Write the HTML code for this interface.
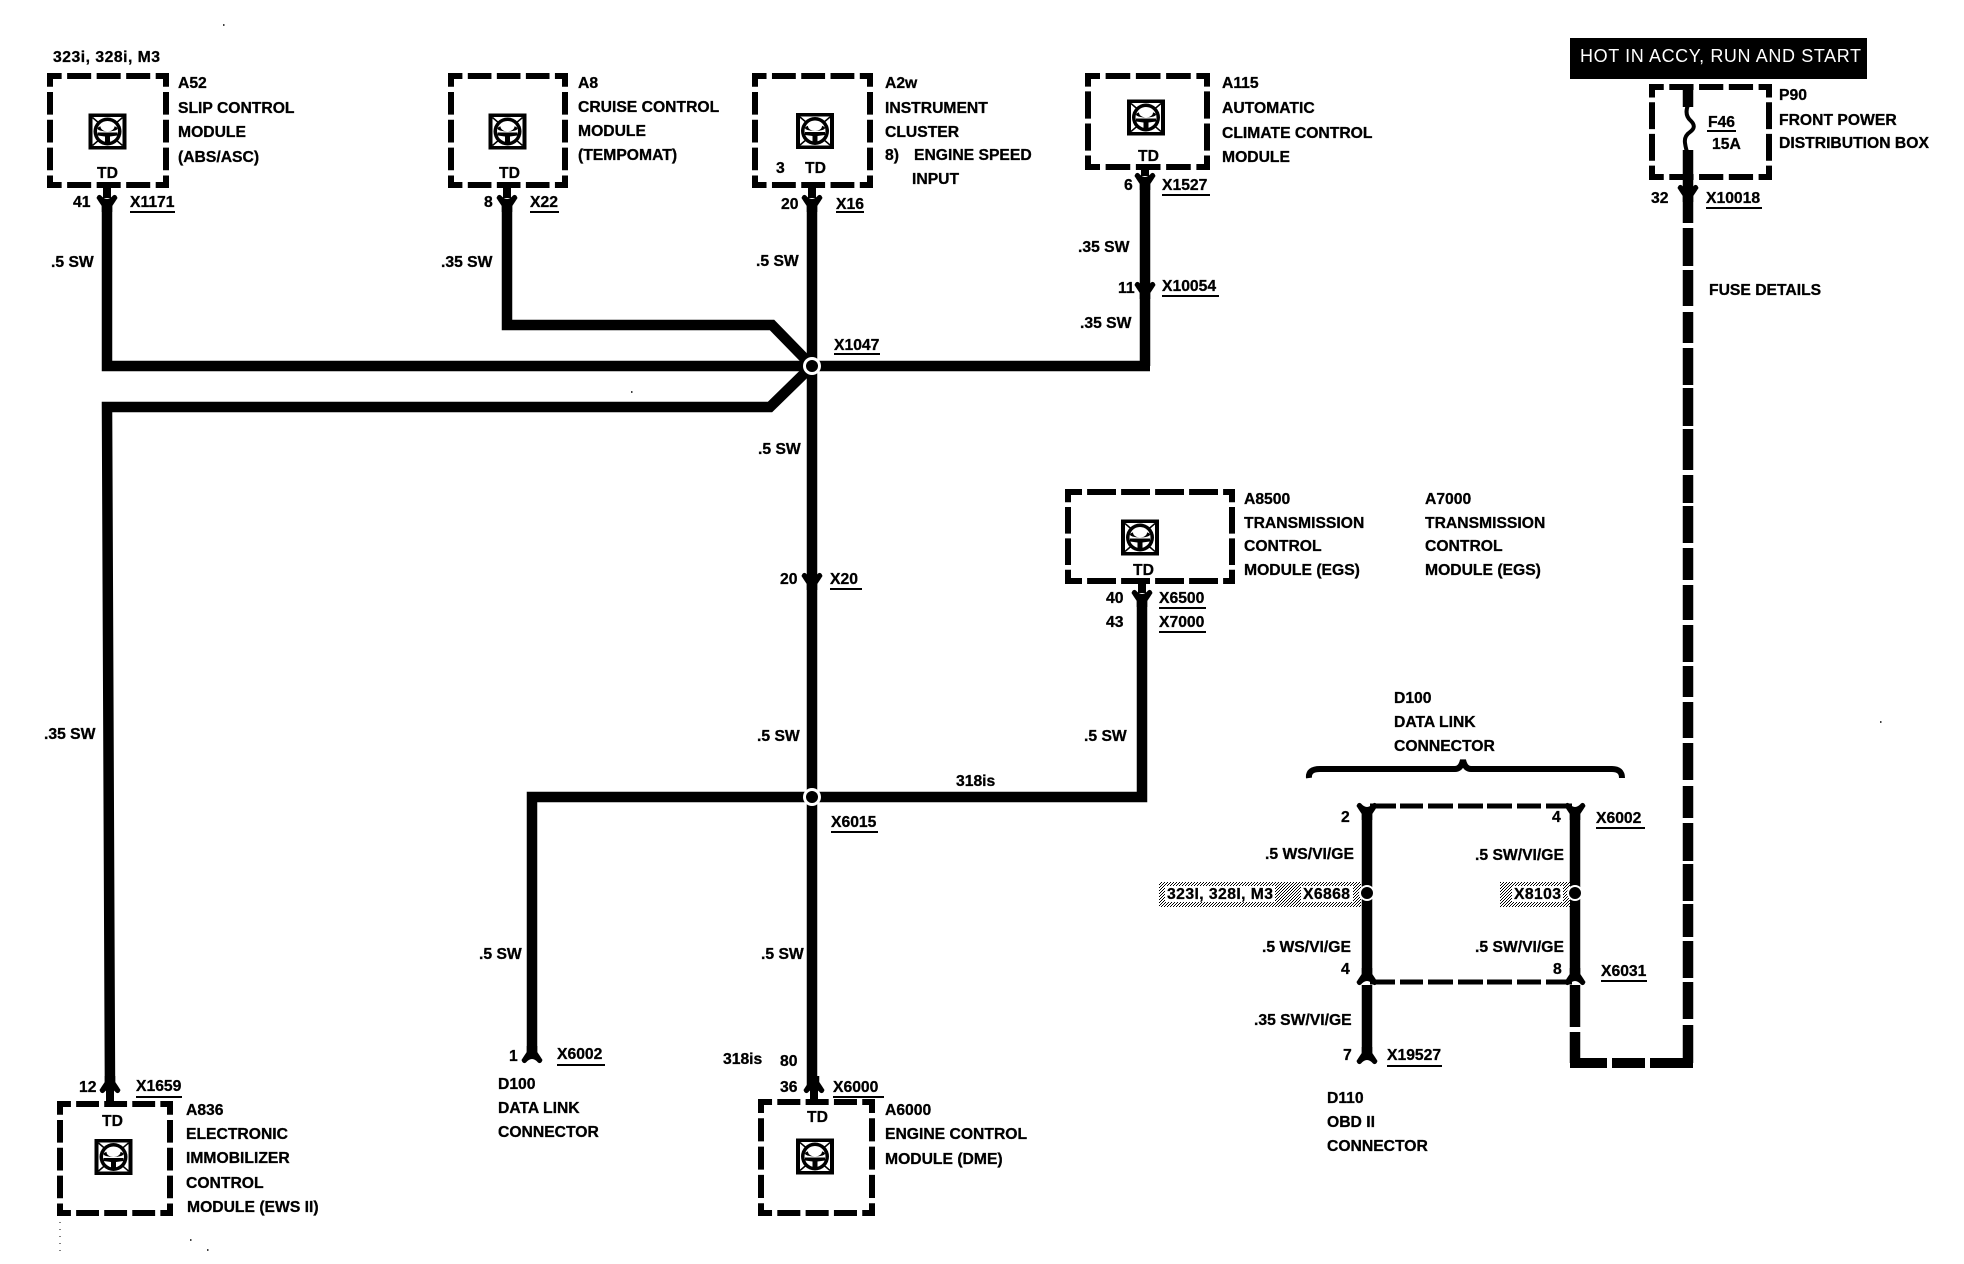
<!DOCTYPE html>
<html><head><meta charset="utf-8"><style>
html,body{margin:0;padding:0;background:#fff}
svg{display:block}
text{font:bold 15.7px "Liberation Sans",sans-serif;fill:#000;stroke:#000;stroke-width:.3}
.w{stroke:#000;stroke-width:10.5;fill:none;stroke-linejoin:miter}
.d,.e,.f{stroke:#000;stroke-width:6;fill:none}
.d{stroke-dasharray:12 4.5 19.700 4.5 19.700 4.5 19.700 4.5 12 4.500}
.e{stroke-dasharray:14 5 28 5 28 5 15 5}
.f{stroke-dasharray:10 3 17 3 17 3 17 3 17 3 9 3}
.u{stroke:#000;stroke-width:2;fill:none}
</style></head><body>
<svg width="1964" height="1264" viewBox="0 0 1964 1264" xmlns="http://www.w3.org/2000/svg">
<defs>
<g id="ic">
<rect x="-19" y="-18" width="38" height="36" fill="#000"/>
<rect x="-15" y="-14.500" width="30" height="29" fill="#fff"/>
<path d="M-15-14 L-8-8M15-14L8-8M-15 14L-8 8M15 14L8 8" stroke="#000" stroke-width="1.500"/>
<circle r="14" fill="#000"/>
<circle r="10.500" fill="#fff"/>
<ellipse cx="0" cy="-3" rx="10" ry="3" fill="#000"/>
<ellipse cx="0" cy="-5" rx="7" ry="5" fill="#fff"/>
<path d="M-10 1H10V4L2.500 5V13H-2.500V5L-10 4Z" fill="#000"/>
</g>
<path id="fu" d="M-10.500-4Q-9-8.500-6-6.500Q-3-3 0-3Q3-3 6-6.500Q9-8.500 10.500-4Q8 0 5.250 4V10H-5.250V4Q-8 0-10.500-4Z" fill="#000"/>
<pattern id="h" width="3" height="3" patternUnits="userSpaceOnUse"><rect width="3" height="3" fill="#fff"/><rect width="1" height="1" fill="#000"/><rect x="2" y="1" width="1" height="1" fill="#000"/><rect x="1" y="2" width="1" height="1" fill="#000"/></pattern>
</defs>

<!-- wires -->
<path class="w" d="M107 205V366H812"/>
<path class="w" d="M507 205V325H772L812 366"/>
<path class="w" d="M812 205V1090"/>
<path class="w" d="M1145 180V366M812 366H1150"/>
<path class="w" d="M812 366L770 407H107L110 1090"/>
<path class="w" d="M1142 600V797H532V1056"/>
<path class="w" d="M1367 810V980M1575 810V980M1367 985V1058"/>
<path class="w" d="M1688 85V107M1688 150V192"/>
<path d="M1688 105Q1684 115 1691 121Q1697 127 1690 132Q1684 136 1685 143Q1686 150 1688 154" fill="none" stroke="#000" stroke-width="4"/>
<path class="w" d="M1688 195V223M1688 228V266M1688 270V306M1688 312V343M1688 348V385M1688 388V426M1688 429V470M1688 475V503M1688 506V543M1688 548V580M1688 585V620M1688 625V662M1688 666V697M1688 702V738M1688 743V780M1688 786V818M1688 823V861M1688 864V901M1688 904V937M1688 941V978M1688 982V1019M1688 1025V1063"/>
<path class="w" d="M1575 985V1027M1575 1032V1063"/>
<path d="M1570 1058H1607V1068H1570ZM1612 1058H1645V1068H1612ZM1650 1058H1693V1068H1650Z" fill="#000"/>
<path stroke="#000" stroke-width="5" fill="none" d="M1370 806H1396M1400 806H1423M1428 806H1453M1458 806H1483M1487 806H1512M1517 806H1541M1546 806H1572M1370 982H1395M1400 982H1423M1428 982H1453M1458 982H1483M1487 982H1512M1517 982H1541M1546 982H1572"/>
<path d="M1309 778Q1308 769 1320 769H1455Q1461 769 1463 760Q1465 769 1471 769H1612Q1622 769 1622 778" fill="none" stroke="#000" stroke-width="6"/>

<!-- forks -->
<use href="#fu" x="107" y="202"/><use href="#fu" x="507" y="202"/><use href="#fu" x="812" y="202"/>
<use href="#fu" x="1145" y="180"/><use href="#fu" x="1145" y="289"/><use href="#fu" x="812" y="580"/>
<use href="#fu" x="1688" y="192"/><use href="#fu" x="1142" y="597"/>
<use href="#fu" x="1367" y="810"/><use href="#fu" x="1575" y="810"/>
<use href="#fu" transform="translate(110,1086) scale(1,-1)"/><use href="#fu" transform="translate(814,1086) scale(1,-1)"/>
<use href="#fu" transform="translate(532,1056) scale(1,-1)"/><use href="#fu" transform="translate(1367,1057) scale(1,-1)"/>
<use href="#fu" transform="translate(1367,978) scale(1,-1)"/><use href="#fu" transform="translate(1575,978) scale(1,-1)"/>
<path d="M107 187V198M507 187V198M812 187V198M1145 168V176M1688 178V189M110 1090V1104M814 1090V1102M1142 583V593" stroke="#000" stroke-width="8"/>

<!-- boxes -->
<path class="d" pathLength="100" d="M47 76H169"/><path class="d" pathLength="100" d="M47 185H169"/><path class="d" pathLength="100" d="M50 73V188"/><path class="d" pathLength="100" d="M166 73V188"/>
<path class="d" pathLength="100" d="M448 76H568"/><path class="d" pathLength="100" d="M448 185H568"/><path class="d" pathLength="100" d="M451 73V188"/><path class="d" pathLength="100" d="M565 73V188"/>
<path class="d" pathLength="100" d="M752 76H873"/><path class="d" pathLength="100" d="M752 185H873"/><path class="d" pathLength="100" d="M755 73V188"/><path class="d" pathLength="100" d="M870 73V188"/>
<path class="d" pathLength="100" d="M1085 76H1210"/><path class="d" pathLength="100" d="M1085 167H1210"/><path class="e" pathLength="100" d="M1088 73V170"/><path class="e" pathLength="100" d="M1207 73V170"/>
<path class="f" pathLength="100" d="M1065 492H1235"/><path class="f" pathLength="100" d="M1065 581H1235"/><path class="e" pathLength="100" d="M1068 489V584"/><path class="e" pathLength="100" d="M1232 489V584"/>
<path class="d" pathLength="100" d="M1649 87H1772"/><path class="d" pathLength="100" d="M1649 177H1772"/><path class="e" pathLength="100" d="M1652 84V180"/><path class="e" pathLength="100" d="M1769 84V180"/>
<path class="d" pathLength="100" d="M57 1104H173"/><path class="d" pathLength="100" d="M57 1213H173"/><path class="d" pathLength="100" d="M60 1101V1216"/><path class="d" pathLength="100" d="M170 1101V1216"/>
<path class="d" pathLength="100" d="M758 1102H875"/><path class="d" pathLength="100" d="M758 1213H875"/><path class="d" pathLength="100" d="M761 1099V1216"/><path class="d" pathLength="100" d="M872 1099V1216"/>

<!-- icons -->
<use href="#ic" x="107.500" y="131.500"/><use href="#ic" x="507.500" y="131.500"/><use href="#ic" x="815" y="131"/>
<use href="#ic" x="1146" y="117.500"/><use href="#ic" x="1140" y="537.500"/><use href="#ic" x="113.500" y="1157"/><use href="#ic" x="815" y="1156.500"/>

<!-- junctions -->
<circle cx="812" cy="366" r="9" fill="#fff"/><circle cx="812" cy="366" r="6" fill="#000"/>
<circle cx="812" cy="797" r="9" fill="#fff"/><circle cx="812" cy="797" r="6" fill="#000"/>

<!-- hatched bands -->
<rect x="1159" y="882" width="202" height="25" fill="url(#h)"/>
<rect x="1500" y="882" width="70" height="25" fill="url(#h)"/>
<rect x="1165" y="886" width="110" height="16" fill="#fff"/><rect x="1301" y="886" width="52" height="16" fill="#fff"/><rect x="1512" y="886" width="51" height="16" fill="#fff"/>
<circle cx="1367" cy="893" r="8" fill="#fff"/><circle cx="1367" cy="893" r="6" fill="#000"/>
<circle cx="1575" cy="893" r="8" fill="#fff"/><circle cx="1575" cy="893" r="6" fill="#000"/>

<!-- underlines -->
<path class="u" d="M130 212H175M530 212H559M836 212H864M1162 195H1210M1162 296H1219M834 354H880M830 589H862M1159 608H1206M1159 632H1206M831 832H878M557 1065H605M833 1097H884M136 1097H182M1706 208H1762M1707 131H1736M1596 828H1645M1601 981H1647M1387 1066H1442"/>

<!-- black header -->
<rect x="1570" y="38" width="297" height="41" fill="#000"/>
<text x="1580" y="62" textLength="281" style="fill:#fff;stroke:none;font-weight:normal;font-size:18px">HOT IN ACCY, RUN AND START</text>

<!-- labels -->
<text x="53" y="62" textLength="107">323i, 328i, M3</text>
<text x="178" y="88">A52</text><text x="178" y="113">SLIP CONTROL</text><text x="178" y="137">MODULE</text><text x="178" y="162">(ABS/ASC)</text>
<text x="97" y="178">TD</text><text x="73" y="207">41</text><text x="130" y="207">X1171</text><text x="51" y="267">.5 SW</text>

<text x="578" y="88">A8</text><text x="578" y="112">CRUISE CONTROL</text><text x="578" y="136">MODULE</text><text x="578" y="160">(TEMPOMAT)</text>
<text x="499" y="178">TD</text><text x="484" y="207">8</text><text x="530" y="207">X22</text><text x="441" y="267">.35 SW</text>

<text x="885" y="88">A2w</text><text x="885" y="113">INSTRUMENT</text><text x="885" y="137">CLUSTER</text><text x="885" y="160">8)</text><text x="914" y="160">ENGINE SPEED</text><text x="912" y="184">INPUT</text>
<text x="776" y="173">3</text><text x="805" y="173">TD</text><text x="781" y="209">20</text><text x="836" y="209">X16</text><text x="756" y="266">.5 SW</text>

<text x="1222" y="88">A115</text><text x="1222" y="113">AUTOMATIC</text><text x="1222" y="138">CLIMATE CONTROL</text><text x="1222" y="162">MODULE</text>
<text x="1138" y="161">TD</text><text x="1124" y="190">6</text><text x="1162" y="190">X1527</text><text x="1078" y="252">.35 SW</text><text x="1118" y="293">11</text><text x="1162" y="291">X10054</text><text x="1080" y="328">.35 SW</text>

<text x="1779" y="100">P90</text><text x="1779" y="125">FRONT POWER</text><text x="1779" y="148">DISTRIBUTION BOX</text>
<text x="1708" y="127">F46</text><text x="1712" y="149">15A</text><text x="1651" y="203">32</text><text x="1706" y="203">X10018</text><text x="1709" y="295">FUSE DETAILS</text>

<text x="834" y="350">X1047</text><text x="758" y="454">.5 SW</text><text x="780" y="584">20</text><text x="830" y="584">X20</text><text x="757" y="741">.5 SW</text>
<text x="956" y="786">318is</text><text x="831" y="827">X6015</text><text x="1084" y="741">.5 SW</text>

<text x="1244" y="504">A8500</text><text x="1244" y="528">TRANSMISSION</text><text x="1244" y="551">CONTROL</text><text x="1244" y="575">MODULE (EGS)</text>
<text x="1133" y="575">TD</text><text x="1106" y="603">40</text><text x="1159" y="603">X6500</text><text x="1106" y="627">43</text><text x="1159" y="627">X7000</text>
<text x="1425" y="504">A7000</text><text x="1425" y="528">TRANSMISSION</text><text x="1425" y="551">CONTROL</text><text x="1425" y="575">MODULE (EGS)</text>

<text x="1394" y="703">D100</text><text x="1394" y="727">DATA LINK</text><text x="1394" y="751">CONNECTOR</text>
<text x="1341" y="822">2</text><text x="1552" y="822">4</text><text x="1596" y="823">X6002</text>
<text x="1265" y="859">.5 WS/VI/GE</text><text x="1475" y="860">.5 SW/VI/GE</text>
<text x="1167" y="899" textLength="106">323I, 328I, M3</text><text x="1303" y="899" textLength="47">X6868</text><text x="1514" y="899" textLength="47">X8103</text>
<text x="1262" y="952">.5 WS/VI/GE</text><text x="1475" y="952">.5 SW/VI/GE</text>
<text x="1341" y="974">4</text><text x="1553" y="974">8</text><text x="1601" y="976">X6031</text>
<text x="1254" y="1025">.35 SW/VI/GE</text><text x="1343" y="1060">7</text><text x="1387" y="1060">X19527</text>
<text x="1327" y="1103">D110</text><text x="1327" y="1127">OBD II</text><text x="1327" y="1151">CONNECTOR</text>

<text x="479" y="959">.5 SW</text><text x="509" y="1061">1</text><text x="557" y="1059">X6002</text>
<text x="498" y="1089">D100</text><text x="498" y="1113">DATA LINK</text><text x="498" y="1137">CONNECTOR</text>
<text x="761" y="959">.5 SW</text><text x="723" y="1064">318is</text><text x="780" y="1066">80</text><text x="780" y="1092">36</text><text x="833" y="1092">X6000</text>
<text x="885" y="1115">A6000</text><text x="885" y="1139">ENGINE CONTROL</text><text x="885" y="1164">MODULE (DME)</text><text x="807" y="1122">TD</text>

<text x="44" y="739">.35 SW</text><text x="79" y="1092">12</text><text x="136" y="1091">X1659</text><text x="102" y="1126">TD</text>
<text x="186" y="1115">A836</text><text x="186" y="1139">ELECTRONIC</text><text x="186" y="1163">IMMOBILIZER</text><text x="186" y="1188">CONTROL</text><text x="187" y="1212">MODULE (EWS II)</text>

<path d="M60 1222V1256" stroke="#000" stroke-width="1" stroke-dasharray="1 6"/>
<path d="M631 392h1.500M1880 722h1.500M190 1240h1.500M207 1250h1.500M223 25h1.500" stroke="#000" stroke-width="1.500"/>
</svg>
</body></html>
